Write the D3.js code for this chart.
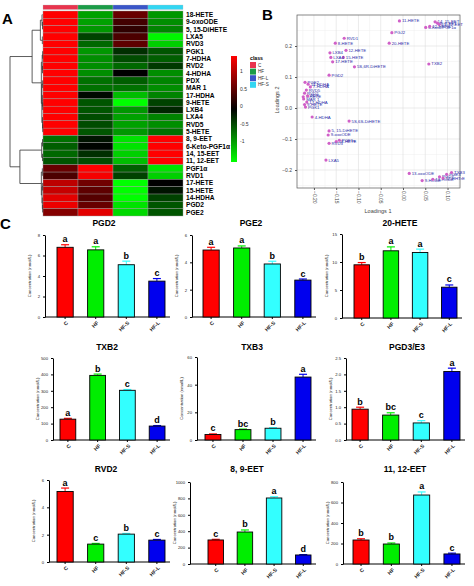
<!DOCTYPE html>
<html><head><meta charset="utf-8">
<script src="https://cdn.jsdelivr.net/npm/d3@7/dist/d3.min.js"></script>
<style>body{margin:0;background:#fff} svg{display:block;font-family:"Liberation Sans",Arial,sans-serif}</style>
</head><body><svg id="c" width="474" height="586"></svg>
<script>
// ---------------- DATA ----------------
// Panel A: heatmap
const heatRows = ["18-HETE","9-oxoODE","5, 15-DiHETE","LXA5","RVD3","PGK1","7-HDHA","RVD2","4-HDHA","PDX","MAR 1","17-HDHA","9-HETE","LXB4","LXA4","RVD5","5-HETE","8, 9-EET","6-Keto-PGF1α","14, 15-EET","11, 12-EET","PGF1α","RVD1","17-HETE","15-HETE","14-HDHA","PGD2","PGE2"];
const heatCols = ["C","HF","HF-L","HF-S"];
const heatC   = [1.5,1.5,1.5,1.35,1.35,1.5,1.5,1.5,1.5,1.5,1.5,1.5,1.5,1.5,1.5,1.5,1.5,-0.6,-0.5,-0.55,-0.45,0.55,0.4,1.0,1.05,1.2,1.25,0.7];
const heatHF  = [-0.85,-0.85,-0.8,-0.35,-0.55,-0.8,-0.75,-0.75,-0.75,-0.6,-0.6,-0.05,-0.45,-0.45,-0.4,-0.4,-0.45,-0.1,-0.02,-0.25,-0.4,1.35,1.3,0.6,0.5,0.45,0.55,1.2];
const heatHFL = [0.55,0.35,0.25,0.4,0.5,-0.25,-0.4,-0.55,0.0,-0.5,-0.6,-1.0,-1.35,-0.8,-0.85,-0.85,-0.8,-1.2,-1.2,-1.1,-1.0,-0.5,-0.35,-1.45,-1.45,-1.35,-1.2,-1.15];
const heatHFS = [-0.8,-0.75,-0.7,-1.3,-1.1,-0.45,-0.5,-0.3,-0.75,-0.7,-0.75,-0.7,-0.35,-0.2,-0.7,-0.75,-0.6,1.5,1.5,1.5,1.5,-1.2,-1.1,0.0,-0.1,-0.35,-0.45,-0.45];
const heatLegendTicks = [1,0.5,0,-0.5,-1];
// row dendrogram (h = merge height)
const dendro = {h:1,c:[
  {h:0.33,c:[
    {h:0.08,c:[{h:0.03,c:["18-HETE",{h:0.015,c:["9-oxoODE","5, 15-DiHETE"]}]},{h:0.02,c:["LXA5","RVD3"]}]},
    {h:0.05,c:[
      {h:0.025,c:[{h:0.01,c:["PGK1","7-HDHA"]},{h:0.015,c:["RVD2","4-HDHA"]}]},
      {h:0.035,c:[{h:0.01,c:["PDX","MAR 1"]},{h:0.02,c:["17-HDHA",{h:0.01,c:["9-HETE","LXB4"]}]},{h:0.015,c:["LXA4",{h:0.008,c:["RVD5","5-HETE"]}]}]}
    ]}
  ]},
  {h:0.7,c:[
    {h:0.04,c:[{h:0.015,c:["8, 9-EET","6-Keto-PGF1α"]},{h:0.015,c:["14, 15-EET","11, 12-EET"]}]},
    {h:0.05,c:[{h:0.02,c:["PGF1α","RVD1"]},{h:0.03,c:[{h:0.01,c:["17-HETE","15-HETE"]},{h:0.02,c:["14-HDHA",{h:0.01,c:["PGD2","PGE2"]}]}]}]}
  ]}
]};

// Panel B: loadings
const loadNames = ["11-HETE","14, 15-EET","8, 9-EET","11, 12-EET","6-Keto-PGF1α","12-HEPE","PGJ2","20-HETE","TXB2","RVD1","8-HETE","LXB4","12-HETE","15-HETE","LXA4","17-HETE","5S,6R-DiHETE","PGD2","PGE2","14-HDHA","7-HDHA","RVD5","RVD2","5-HETE","PDX","MAR 1","17-HDHA","9-HETE","PGK1","4-HDHA","5S,6S-DiHETE","5, 15-DiHETE","9-oxoODE","18-HETE","PGF1α","RVD3","LXA5","13-oxoODE","9-HODE","13-HODE","PGD3","12-HHTrE","PGE3","TXB3"];
const load1 = [-0.008,0.072,0.077,0.081,0.051,0.060,-0.025,-0.031,0.058,-0.132,-0.152,-0.164,-0.128,-0.134,-0.162,-0.158,-0.109,-0.166,-0.220,-0.213,-0.208,-0.217,-0.221,-0.224,-0.214,-0.223,-0.216,-0.221,-0.219,-0.204,-0.121,-0.166,-0.168,-0.150,-0.143,-0.166,-0.173,0.014,0.043,0.067,0.082,0.090,0.098,0.109];
const load2 = [0.281,0.278,0.274,0.270,0.260,0.263,0.243,0.209,0.142,0.225,0.209,0.178,0.186,0.163,0.163,0.149,0.133,0.106,0.083,0.077,0.068,0.058,0.048,0.036,0.039,0.029,0.019,0.011,0.003,-0.029,-0.042,-0.074,-0.087,-0.108,-0.104,-0.114,-0.168,-0.211,-0.234,-0.230,-0.222,-0.226,-0.214,-0.208];
const loadXTicks = [-0.20,-0.15,-0.10,-0.05,0.00,0.05,0.10];
const loadYTicks = [-0.2,-0.1,0.0,0.1,0.2];

// Panel C: bar charts
const barGroups = ["C","HF","HF-S","HF-L"];
const chartTitles = ["PGD2","PGE2","20-HETE","TXB2","TXB3","PGD3/E3","RVD2","8, 9-EET","11, 12-EET"];
const chartValues = [
  [6.8,6.55,5.1,3.5],
  [4.9,5.05,3.88,2.7],
  [9.5,12.0,11.7,5.5],
  [127,394,303,85],
  [4,7.5,8.5,45.5],
  [0.94,0.76,0.52,2.09],
  [5.16,1.31,2.04,1.6],
  [293,390,805,110],
  [234,195,673,98]
];
const chartErrors = [
  [0.25,0.3,0.35,0.25],
  [0.2,0.15,0.2,0.08],
  [0.4,0.7,0.6,0.4],
  [5,8,5,3],
  [0.4,0.4,0.4,2],
  [0.06,0.07,0.07,0.1],
  [0.25,0.05,0.05,0.05],
  [8,25,15,5],
  [12,10,30,8]
];
const chartLetters = [
  ["a","a","b","c"],["a","a","b","c"],["b","a","a","c"],
  ["a","b","c","d"],["c","bc","b","a"],["b","bc","c","a"],
  ["a","c","b","c"],["c","b","a","d"],["b","b","a","c"]
];
const chartMax  = [8,6,15,500,60,2.5,6,1000,800];
const chartStep = [2,2,5,100,20,0.5,2,200,200];
const yAxisTitle = "Concentration (nmol/L)";

// ---------------- STYLE / LAYOUT ----------------
const svg = d3.select("#c");
svg.append("rect").attr("width",474).attr("height",586).attr("fill","#fff");
const heatColor = d3.scaleLinear().domain([-1.35,0,1.35]).range(["#00ff00","#000000","#ff0000"]).clamp(true);
const classColors = ["#e8344e","#1c9c48","#3a56c8","#33d6f2"];
const barColors = ["#ff0000","#00ee00","#33ffff","#0000ee"];

// Panel letters
[["A",2,24],["B",262,20],["C",0,229]].forEach(([t,x,y])=>{
  svg.append("text").attr("x",x).attr("y",y).attr("font-size",15).attr("font-weight","bold").text(t);
});

// ---------- Panel A ----------
const hx = d3.scaleBand().domain(heatCols).range([43,183]);
const hy = d3.scaleBand().domain(heatRows).range([11,216]);
const heatByCol = [heatC,heatHF,heatHFL,heatHFS];
const gA = svg.append("g");
heatCols.forEach((c,ci)=>{
  gA.append("rect").attr("x",hx(c)).attr("y",5).attr("width",hx.bandwidth()).attr("height",4.5)
    .attr("fill",classColors[ci]).attr("stroke","#bbb").attr("stroke-width",0.3);
  heatRows.forEach((r,ri)=>{
    gA.append("rect").attr("x",hx(c)).attr("y",hy(r)).attr("width",hx.bandwidth()).attr("height",hy.bandwidth())
      .attr("fill",heatColor(heatByCol[ci][ri])).attr("stroke","#9a9a9a").attr("stroke-width",0.4);
  });
});
gA.selectAll("text.rl").data(heatRows).join("text").attr("class","rl")
  .attr("x",186).attr("y",d=>hy(d)+hy.bandwidth()/2).attr("dy","0.35em")
  .attr("font-size",6.6).attr("font-weight","bold").text(d=>d);

// dendrogram
const root = d3.hierarchy(dendro, d => (d && d.c) ? d.c : null);
const dx = h => 43 - h*33;
root.eachAfter(n=>{
  if(!n.children){ n.px = 42.5; n.py = hy(n.data)+hy.bandwidth()/2; }
  else { n.px = dx(n.data.h); n.py = (n.children[0].py + n.children[n.children.length-1].py)/2; }
});
root.each(n=>{
  if(n.children){
    gA.append("line").attr("x1",n.px).attr("x2",n.px).attr("y1",n.children[0].py).attr("y2",n.children[n.children.length-1].py)
      .attr("stroke","#333").attr("stroke-width",0.8);
    n.children.forEach(ch=>{
      gA.append("line").attr("x1",n.px).attr("x2",ch.px).attr("y1",ch.py).attr("y2",ch.py)
        .attr("stroke","#333").attr("stroke-width",0.8);
    });
  }
});

// color legend
const defs = svg.append("defs");
const grad = defs.append("linearGradient").attr("id","hg").attr("x1",0).attr("x2",0).attr("y1",0).attr("y2",1);
[[0,"#ff0000"],[0.5,"#000000"],[1,"#00ff00"]].forEach(([o,c])=>grad.append("stop").attr("offset",o).attr("stop-color",c));
const ly = d3.scaleLinear().domain([1.45,-1.6]).range([56,162]);
gA.append("rect").attr("x",231).attr("y",56).attr("width",6).attr("height",106).attr("fill","url(#hg)");
heatLegendTicks.forEach(t=>{
  gA.append("text").attr("x",240).attr("y",ly(t)).attr("dy","0.35em").attr("font-size",5).attr("fill","#333").text(t);
});
gA.append("text").attr("x",250).attr("y",60).attr("font-size",5.2).attr("font-weight","bold").text("class");
heatCols.forEach((c,ci)=>{
  gA.append("rect").attr("x",250).attr("y",62+ci*6.6).attr("width",6).attr("height",6).attr("fill",classColors[ci]);
  gA.append("text").attr("x",258).attr("y",65+ci*6.6).attr("dy","0.35em").attr("font-size",4.6).attr("fill","#333").text(c);
});

// ---------- Panel B ----------
const sx = d3.scaleLinear().domain([-0.238,0.128]).range([297,460]);
const sy = d3.scaleLinear().domain([-0.258,0.3]).range([188,15]);
const gB = svg.append("g");
d3.range(-0.225,0.13,0.05).forEach(v=>gB.append("line").attr("x1",sx(v)).attr("x2",sx(v)).attr("y1",15).attr("y2",188).attr("stroke","#eeeeee").attr("stroke-width",0.5));
d3.range(-0.25,0.3,0.1).forEach(v=>gB.append("line").attr("x1",297).attr("x2",460).attr("y1",sy(v)).attr("y2",sy(v)).attr("stroke","#eeeeee").attr("stroke-width",0.5));
loadXTicks.forEach(v=>gB.append("line").attr("x1",sx(v)).attr("x2",sx(v)).attr("y1",15).attr("y2",188).attr("stroke","#dedede").attr("stroke-width",0.6));
loadYTicks.forEach(v=>gB.append("line").attr("x1",297).attr("x2",460).attr("y1",sy(v)).attr("y2",sy(v)).attr("stroke","#dedede").attr("stroke-width",0.6));
gB.append("rect").attr("x",297).attr("y",15).attr("width",163).attr("height",173).attr("fill","none").attr("stroke","#555").attr("stroke-width",0.7);
const axB = gB.append("g").attr("transform","translate(0,188)").call(d3.axisBottom(sx).tickValues(loadXTicks).tickSize(2).tickFormat(d3.format(".2f")));
axB.select(".domain").remove();
axB.selectAll("line").attr("stroke","#555");
axB.selectAll("text").attr("font-size",5).attr("fill","#444").attr("transform","rotate(90)").attr("text-anchor","start").attr("x",3).attr("y",0).attr("dy","0.35em");
const ayB = gB.append("g").attr("transform","translate(297,0)").call(d3.axisLeft(sy).tickValues(loadYTicks).tickSize(2).tickFormat(d3.format(".1f")));
ayB.select(".domain").remove();
ayB.selectAll("line").attr("stroke","#555");
ayB.selectAll("text").attr("font-size",5).attr("fill","#444");
gB.append("text").attr("x",378).attr("y",213).attr("text-anchor","middle").attr("font-size",5.5).attr("fill","#444").text("Loadings 1");
gB.append("text").attr("transform","translate(279,100) rotate(-90)").attr("text-anchor","middle").attr("font-size",5.5).attr("fill","#444").text("Loadings 2");
loadNames.forEach((n,i)=>{
  gB.append("circle").attr("cx",sx(load1[i])).attr("cy",sy(load2[i])).attr("r",1.6).attr("fill","#d060c8");
  gB.append("text").attr("x",sx(load1[i])+2.5).attr("y",sy(load2[i])).attr("dy","0.35em").attr("font-size",4.3).attr("fill","#2a2aa8").text(n);
});

// ---------- Panel C ----------
const frames = [
  {ax:45, b0:57, b1:165,top:235,bot:317,tx:104,ty:226},
  {ax:192,b0:203,b1:311,top:235,bot:317,tx:251,ty:226},
  {ax:342,b0:354,b1:457,top:234,bot:318,tx:400,ty:226},
  {ax:53, b0:60, b1:165,top:358,bot:440,tx:107,ty:350},
  {ax:197,b0:205,b1:311,top:357,bot:440,tx:252,ty:350},
  {ax:346,b0:352,b1:460,top:358,bot:440,tx:407,ty:350},
  {ax:49, b0:57, b1:165,top:480,bot:562,tx:106,ty:472},
  {ax:190,b0:208,b1:311,top:482,bot:564,tx:247,ty:472},
  {ax:343,b0:353,b1:460,top:482,bot:564,tx:405,ty:472}
];
chartTitles.forEach((t,i)=>{
  const f = frames[i];
  const g = svg.append("g");
  const y = d3.scaleLinear().domain([0,chartMax[i]]).range([f.bot,f.top]);
  const x = d3.scaleBand().domain(barGroups).range([f.b0,f.b1]).paddingInner(0.47);
  const fmt = chartStep[i] < 1 ? d3.format(".1f") : d3.format("d");
  g.append("text").attr("x",f.tx).attr("y",f.ty).attr("text-anchor","middle").attr("font-size",8.5).attr("font-weight","bold").text(t);
  const ay = g.append("g").attr("transform",`translate(${f.ax},0)`)
    .call(d3.axisLeft(y).tickValues(d3.range(0,chartMax[i]+chartStep[i]/2,chartStep[i])).tickSize(2).tickSizeOuter(0).tickFormat(fmt));
  ay.select(".domain").attr("stroke","#000").attr("stroke-width",1);
  ay.selectAll("line").attr("stroke","#000");
  ay.selectAll("text").attr("font-size",4.2).attr("fill","#222");
  g.append("text").attr("transform",`translate(${f.ax-14},${(f.top+f.bot)/2}) rotate(-90)`).attr("text-anchor","middle")
    .attr("font-size",4.2).attr("fill","#222").text(yAxisTitle);
  // x axis
  g.append("line").attr("x1",f.ax).attr("x2",f.b1+5).attr("y1",f.bot).attr("y2",f.bot).attr("stroke","#000").attr("stroke-width",1);
  barGroups.forEach((grp,j)=>{
    const cx = x(grp)+x.bandwidth()/2;
    g.append("line").attr("x1",cx).attr("x2",cx).attr("y1",f.bot).attr("y2",f.bot+2).attr("stroke","#000");
    g.append("text").attr("transform",`translate(${cx+2},${f.bot+5}) rotate(-45)`).attr("text-anchor","end").attr("dy","0.35em")
      .attr("font-size",5.2).attr("font-weight","bold").attr("fill","#222").text(grp);
    const v = chartValues[i][j], e = chartErrors[i][j];
    // error bar
    g.append("line").attr("x1",cx).attr("x2",cx).attr("y1",y(v)).attr("y2",y(v+e)).attr("stroke",barColors[j]).attr("stroke-width",1);
    g.append("line").attr("x1",cx-4).attr("x2",cx+4).attr("y1",y(v+e)).attr("y2",y(v+e)).attr("stroke",barColors[j]).attr("stroke-width",1.2);
    g.append("rect").attr("x",x(grp)).attr("y",y(v)).attr("width",x.bandwidth()).attr("height",f.bot-y(v))
      .attr("fill",barColors[j]).attr("stroke","#000").attr("stroke-width",0.9);
    g.append("text").attr("x",cx).attr("y",y(v+e)-2.5).attr("text-anchor","middle").attr("font-size",9).attr("font-weight","bold").text(chartLetters[i][j]);
  });
});
</script></body></html>
